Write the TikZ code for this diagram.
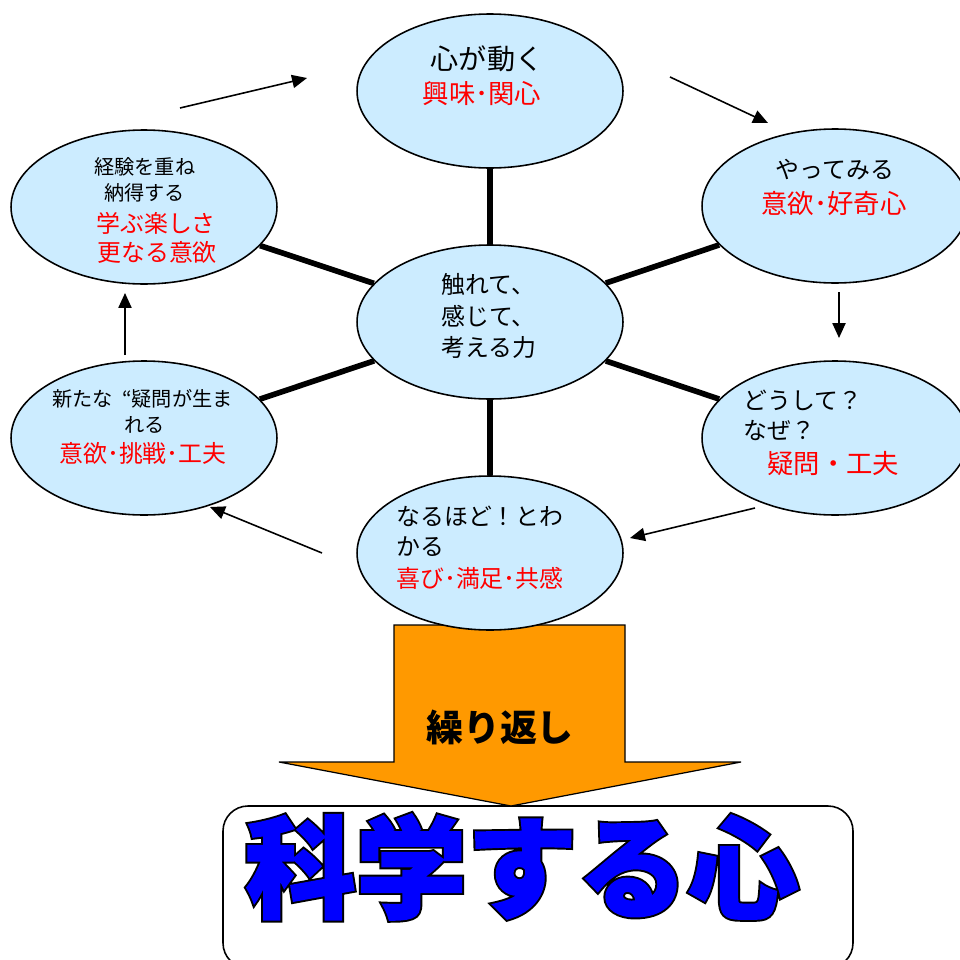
\documentclass[tikz,border=0pt]{standalone}
\usepackage{fontspec}
\setmainfont{Noto Sans CJK JP}
\newfontfamily\bigfill{Noto Sans CJK JP}[FakeBold=1.5]
\newfontfamily\bigline{Noto Sans CJK JP}[FakeBold=5]
\usetikzlibrary{shapes.geometric,arrows.meta}
\definecolor{bubble}{RGB}{204,236,255}
\definecolor{arroworange}{RGB}{255,153,0}
\definecolor{redtxt}{RGB}{255,0,0}
\definecolor{bigblue}{RGB}{0,0,255}
\tikzset{
  bub/.style={ellipse, draw=black, fill=bubble, line width=0.9pt,
    minimum width=5.32cm, minimum height=3.08cm, inner sep=0pt},
  spoke/.style={line width=3.2pt},
  flow/.style={line width=0.9pt, -{Triangle[length=8.5pt,width=7.5pt]}},
  txt/.style={inner sep=0pt, anchor=west},
  ctxt/.style={inner sep=0pt, anchor=center},
  fa/.style={font=\fontsize{16}{16}\selectfont},
  fb/.style={font=\fontsize{13.6}{13.6}\selectfont},
  fr/.style={font=\fontsize{15}{15}\selectfont, text=redtxt},
  fs/.style={font=\fontsize{11.5}{11.5}\selectfont},
  frs/.style={font=\fontsize{13.6}{13.6}\selectfont, text=redtxt},
}
\begin{document}
\begin{tikzpicture}[x=0.02cm, y=-0.02cm]
\useasboundingbox (0,0) rectangle (960,960);

% bottom box and big arrow
\draw[line width=0.9pt, rounded corners=0.5cm] (223,806) rectangle (853,968);
\draw[fill=arroworange, line width=0.7pt] (394,625) -- (625,625) -- (625,762) -- (741,762)
  -- (511,806) -- (279,762) -- (394,762) -- cycle;

% bubbles
\node[bub] (top) at (490,91) {};
\node[bub] (rt) at (835,206) {};
\node[bub] (rb) at (835,438) {};
\node[bub] (bot) at (490,553) {};
\node[bub] (lb) at (144,438) {};
\node[bub] (lt) at (144,207) {};
\node[bub] (ctr) at (490,322) {};

% spokes
\foreach \n in {top,rt,rb,bot,lb,lt} \draw[spoke] (ctr) -- (\n);

% cycle arrows
\coordinate (a1s) at (180,108); \coordinate (a1e) at (307,78);
\coordinate (a2s) at (670,77);  \coordinate (a2e) at (768,123);
\coordinate (a3s) at (839,292); \coordinate (a3e) at (839,338);
\coordinate (a4s) at (755,508); \coordinate (a4e) at (630,538);
\coordinate (a5s) at (322,553); \coordinate (a5e) at (210,507);
\coordinate (a6s) at (125,355); \coordinate (a6e) at (125,293);
\draw[flow] (a1s) -- (a1e);
\draw[flow] (a2s) -- (a2e);
\draw[flow] (a3s) -- (a3e);
\draw[flow] (a4s) -- (a4e);
\draw[flow] (a5s) -- (a5e);
\draw[flow] (a6s) -- (a6e);

% texts: top
\node[ctxt, fa] (t1) at (487,59) {心が動く};
\node[ctxt, fr] (t2) at (482,94) {興味･関心};
% right top
\node[ctxt, fb] (rt1) at (835,170) {やってみる};
\node[ctxt, fr] (rt2) at (834,203) {意欲･好奇心};
% right bottom
\node[txt, fb] (rb1) at (743,400) {どうして？};
\node[txt, fb] (rb2) at (743,431) {なぜ？};
\node[txt, fr] (rb3) at (767,464) {疑問・工夫};
% centre
\node[txt, fb] (c1) at (441,284) {触れて、};
\node[txt, fb] (c2) at (441,316) {感じて、};
\node[txt, fb] (c3) at (441,347) {考える力};
% bottom
\node[txt, fb] (b1) at (396,516) {なるほど！とわ};
\node[txt, fb] (b2) at (396,547) {かる};
\node[txt, frs] (b3) at (396,578) {喜び･満足･共感};
% left top
\node[txt, fs] (lt1) at (94,167) {経験を重ね};
\node[txt, fs] (lt2) at (104,193) {納得する};
\node[txt, frs] (lt3) at (96,223) {学ぶ楽しさ};
\node[txt, frs] (lt4) at (97,252) {更なる意欲};
% left bottom
\node[txt, fs] (lb1) at (52,399) {新たな\hspace{0.45em}“疑問が生ま};
\node[txt, fs] (lb2) at (124,425) {れる};
\node[txt, frs] (lb3) at (59,453) {意欲･挑戦･工夫};

% arrow label
\node[ctxt, font=\bfseries\fontsize{21}{21}\selectfont] (rep) at (500,727) {繰り返し};

% big title
\node[ctxt, font=\bigline\bfseries\fontsize{63}{63}\selectfont, text=black] (titleo) at (522,867) {科学する心};
\node[ctxt, font=\bigfill\bfseries\fontsize{63}{63}\selectfont, text=bigblue] (title) at (522,867) {科学する心};
\end{tikzpicture}
\end{document}
